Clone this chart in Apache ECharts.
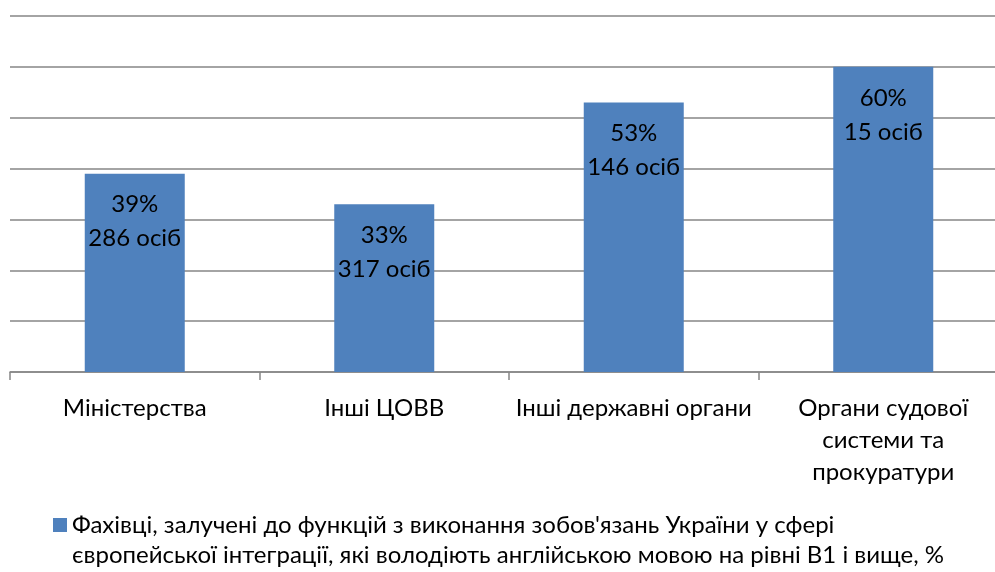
<!DOCTYPE html>
<html><head><meta charset="utf-8">
<script src="https://cdn.jsdelivr.net/npm/echarts@6/dist/echarts.min.js"></script>
<style>html,body{margin:0;padding:0;background:#fff}#c{width:995px;height:572px}</style>
</head><body><div id="c"></div>
<script>
const categories = ['Міністерства', 'Інші ЦОВВ', 'Інші державні органи', 'Органи судової\nсистеми та\nпрокуратури'];
const percentValues = [39, 33, 53, 60];
const personCounts = [286, 317, 146, 15];
const seriesName = "Фахівці, залучені до функцій з виконання зобов'язань України у сфері\nєвропейської інтеграції, які володіють англійською мовою на рівні В1 і вище, %";
const FONT = 'Lato';
const FS = 24;
const chart = echarts.init(document.getElementById('c'));
chart.setOption({
  animation: false,
  textStyle: { fontFamily: FONT },
  grid: { left: 10, top: 16, width: 998, height: 356, containLabel: false, outerBoundsMode: 'none' },
  xAxis: {
    type: 'category', data: categories,
    axisLine: { lineStyle: { color: '#868686', width: 1.5 } },
    axisTick: { show: true, length: 8, lineStyle: { color: '#868686', width: 1.5 } },
    axisLabel: { color: '#000', fontSize: FS, lineHeight: 32, margin: 20, fontFamily: FONT, interval: 0 }
  },
  yAxis: {
    type: 'value', min: 0, max: 70, interval: 10,
    axisLabel: { show: false }, axisLine: { show: false }, axisTick: { show: false },
    splitLine: { lineStyle: { color: '#868686', width: 1.5 } }
  },
  legend: {
    left: 48, top: 475, itemWidth: 14, itemHeight: 14, itemGap: 5,
    icon: 'rect',
    formatter: name => '\n' + name,
    textStyle: { fontSize: FS, lineHeight: 30, color: '#000', fontFamily: FONT }
  },
  series: [{
    name: seriesName, type: 'bar', barWidth: 100,
    data: percentValues,
    itemStyle: { color: '#4F81BD' },
    label: {
      show: true, position: 'insideTop', distance: 14,
      color: '#000', fontSize: FS, lineHeight: 34, fontFamily: FONT,
      formatter: p => p.value + '%\n' + personCounts[p.dataIndex] + ' осіб'
    }
  }]
});
</script></body></html>
